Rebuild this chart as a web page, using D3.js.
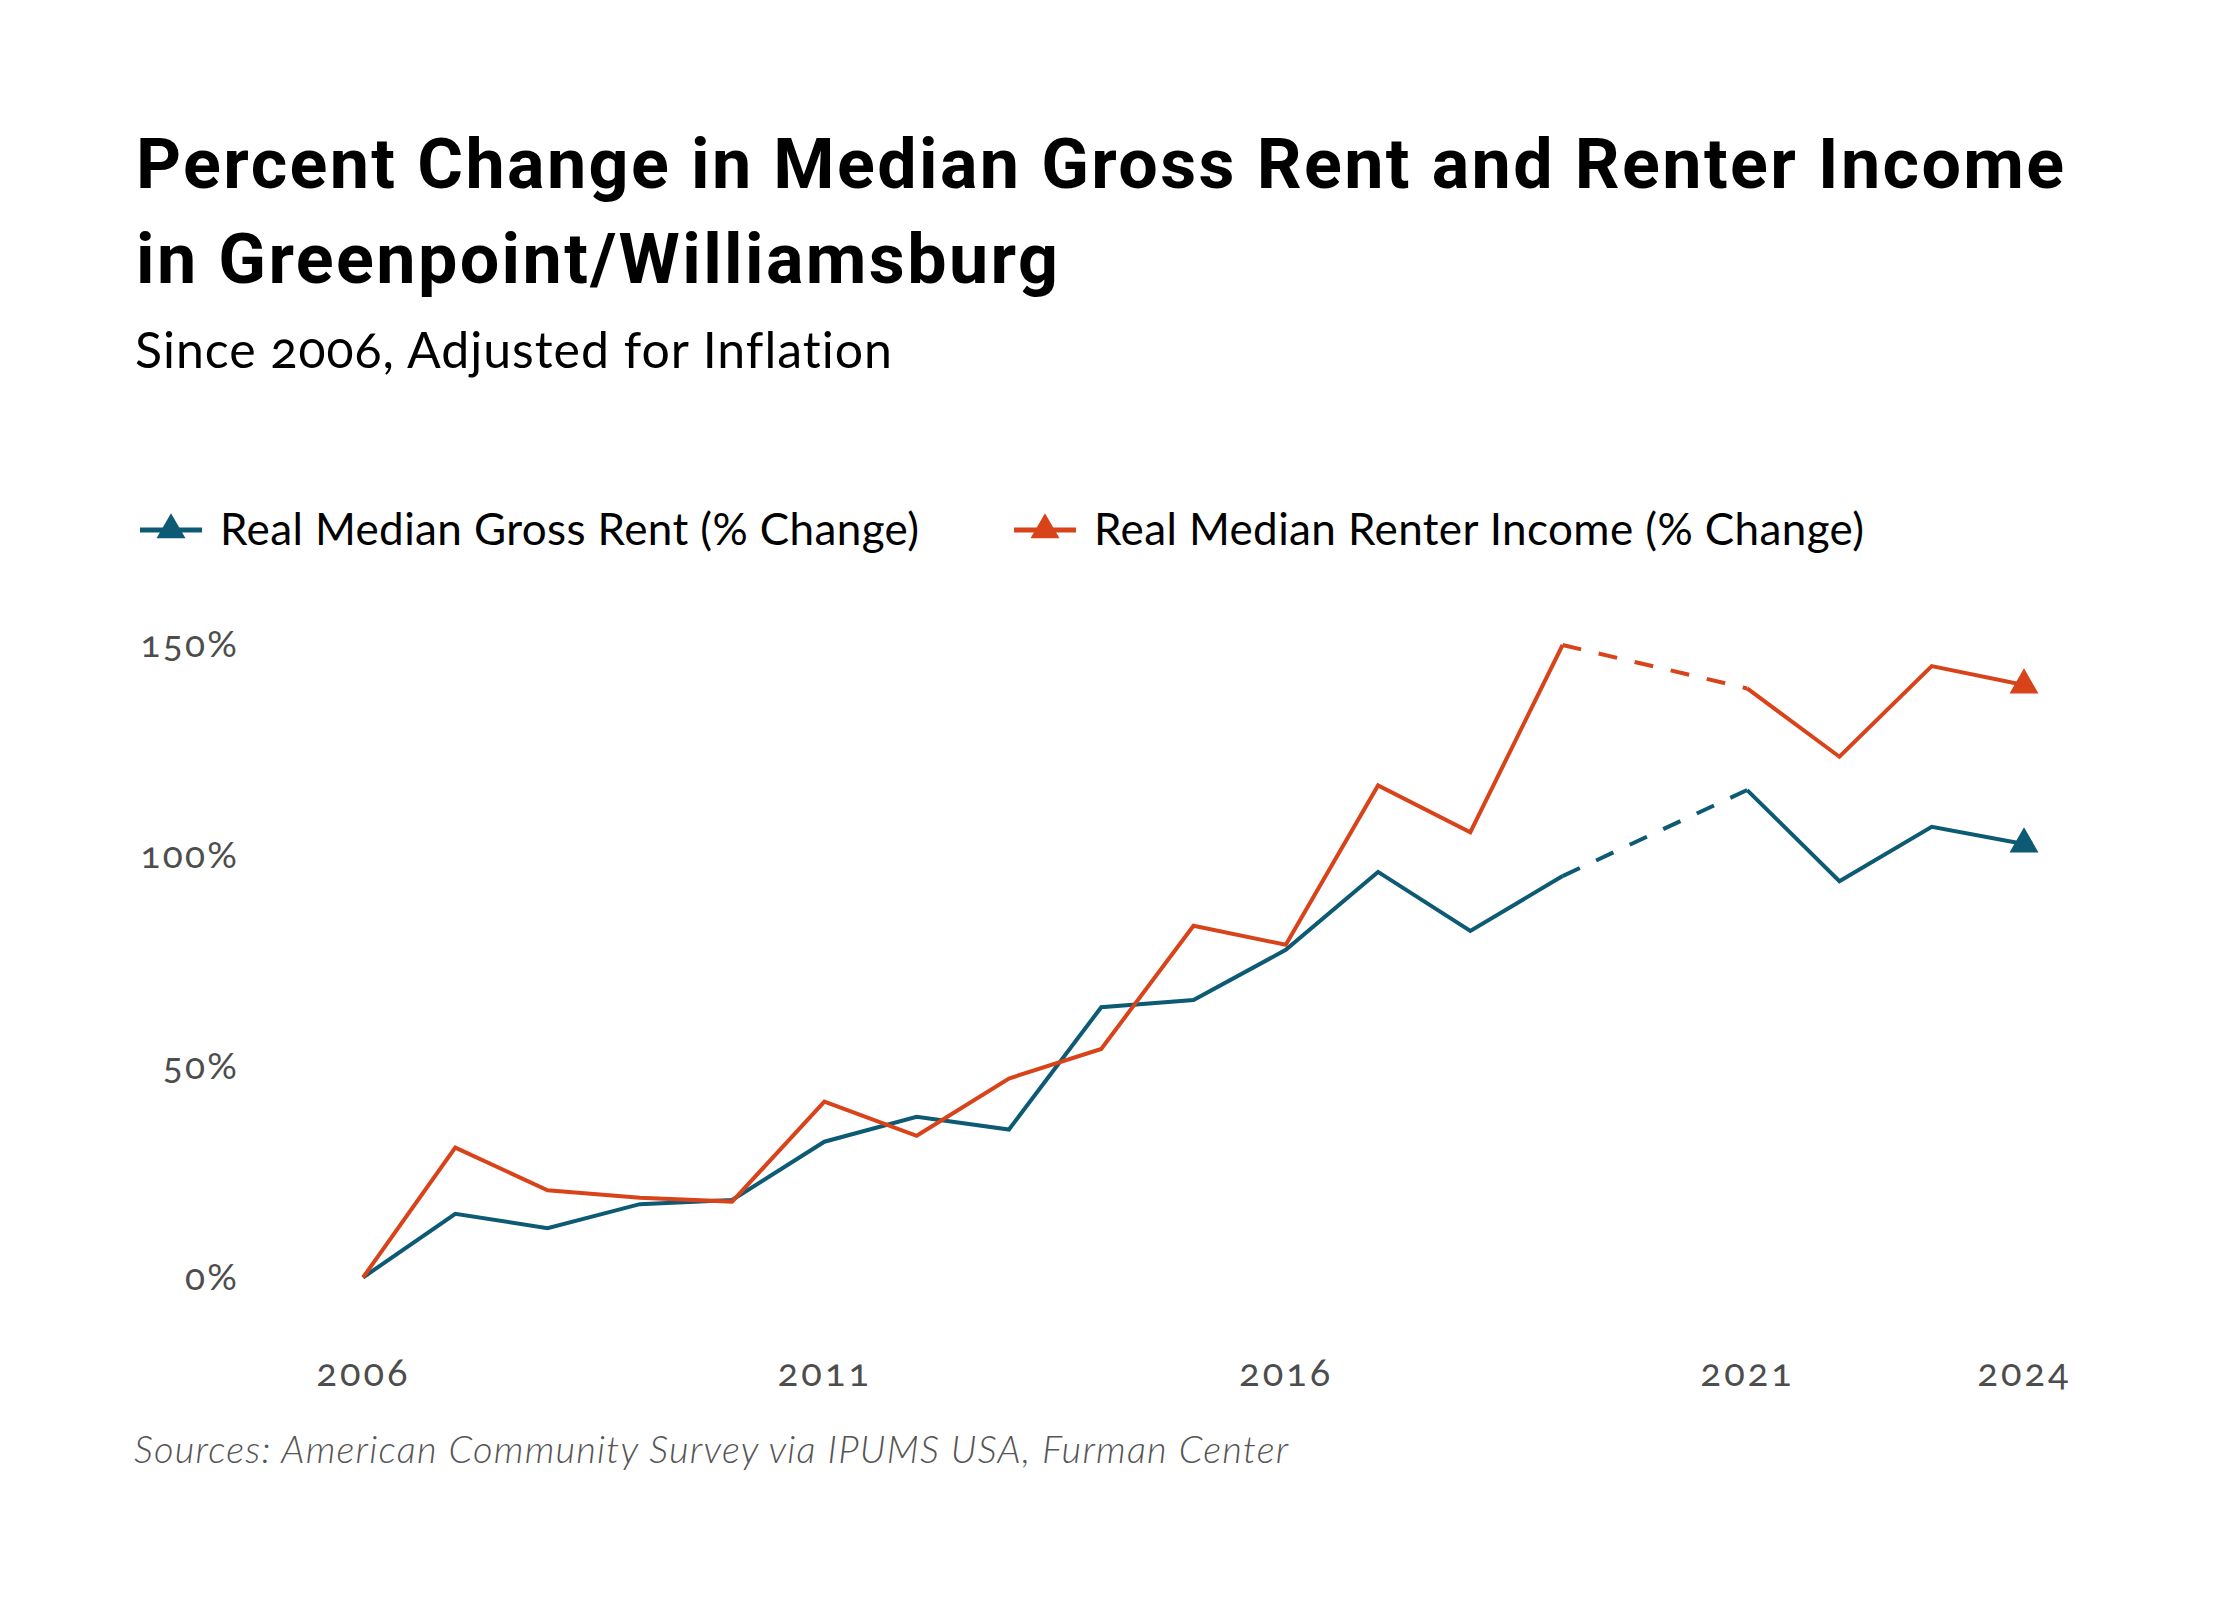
<!DOCTYPE html>
<html>
<head>
<meta charset="utf-8">
<script src="https://cdn.jsdelivr.net/npm/d3@7"></script>
<style>
  html, body { margin: 0; padding: 0; background: #fff; }
  svg { display: block; }
  .tick text { font-variant-numeric: oldstyle-nums; }
</style>
</head>
<body>
<svg id="chart" width="2240" height="1600"></svg>
<script>
// Data (% change since 2006, inflation adjusted)
const years  = [2006, 2007, 2008, 2009, 2010, 2011, 2012, 2013, 2014, 2015,
                2016, 2017, 2018, 2019, 2020, 2021, 2022, 2023, 2024];
const rent   = [0, 15.1, 11.7, 17.4, 18.4, 32.2, 38.1, 35.1, 64.1, 65.8,
                77.7, 96.2, 82.2, 95.2, null, 115.6, 94.0, 106.9, 102.8];
const income = [0, 30.8, 20.7, 18.9, 18.0, 41.7, 33.6, 47.2, 54.2, 83.4,
                78.9, 116.7, 105.6, 150.0, null, 139.7, 123.5, 145.0, 140.5];

const yTicks = [0, 50, 100, 150];
const xTicks = [2006, 2011, 2016, 2021, 2024];

const seriesNames = ["Real Median Gross Rent (% Change)", "Real Median Renter Income (% Change)"];
const colors = ["#0c5a73", "#d8431a"];

const svg = d3.select("#chart");

svg.append("rect")
  .attr("width", 2240)
  .attr("height", 1600)
  .attr("fill", "#fff");

// Title block
const title = svg.append("text")
  .attr("x", 136)
  .attr("font-family", "Roboto, sans-serif")
  .attr("font-weight", 700)
  .attr("font-size", "70px")
  .attr("letter-spacing", "2.4px")
  .attr("fill", "#000");
title.append("tspan").attr("x", 136).attr("y", 188)
  .text("Percent Change in Median Gross Rent and Renter Income");
title.append("tspan").attr("x", 136).attr("y", 283)
  .text("in Greenpoint/Williamsburg");

svg.append("text")
  .attr("x", 135)
  .attr("y", 368)
  .attr("font-family", "Lato, sans-serif")
  .attr("font-size", "50px")
  .attr("letter-spacing", "1px")
  .attr("fill", "#000")
  .style("font-variant-numeric", "oldstyle-nums")
  .text("Since 2006, Adjusted for Inflation");

// Scales
const x = d3.scaleLinear().domain([2006, 2024]).range([363, 2024]);
const y = d3.scaleLinear().domain([0, 150]).range([1277.5, 645]);

// Axes
const yAxis = svg.append("g")
  .attr("transform", "translate(249,0)")
  .call(d3.axisLeft(y).tickValues(yTicks).tickFormat(d => d + "%").tickSize(0).tickPadding(10));
yAxis.select(".domain").remove();
yAxis.selectAll("text")
  .attr("font-family", "Lato, sans-serif")
  .attr("font-size", "37px")
  .attr("letter-spacing", "2.2px")
  .attr("fill", "#4d4d4d");

const xAxis = svg.append("g")
  .attr("transform", "translate(0,1350)")
  .call(d3.axisBottom(x).tickValues(xTicks).tickFormat(d3.format("d")).tickSize(0).tickPadding(9));
xAxis.select(".domain").remove();
xAxis.selectAll("text")
  .attr("font-family", "Lato, sans-serif")
  .attr("font-size", "38px")
  .attr("letter-spacing", "3px")
  .attr("fill", "#4d4d4d");

// Lines
const allSeries = [rent, income];
const line = d3.line()
  .defined(d => d.v !== null)
  .x(d => x(d.year))
  .y(d => y(d.v));

allSeries.forEach((vals, i) => {
  const pts = years.map((yr, j) => ({ year: yr, v: vals[j] }));

  // solid parts
  svg.append("path")
    .datum(pts)
    .attr("fill", "none")
    .attr("stroke", colors[i])
    .attr("stroke-width", 4)
    .attr("stroke-linejoin", "miter")
    .attr("d", line);

  // dashed bridge over missing years
  pts.forEach((p, j) => {
    if (p.v !== null) return;
    if (j === 0 || pts[j - 1].v === null) return;
    let k = j + 1;
    while (k < pts.length && pts[k].v === null) k++;
    if (k >= pts.length) return;
    svg.append("path")
      .datum([pts[j - 1], pts[k]])
      .attr("fill", "none")
      .attr("stroke", colors[i])
      .attr("stroke-width", 4)
      .attr("stroke-dasharray", "19,18")
      .attr("d", line);
  });

  // end marker
  const last = pts[pts.length - 1];
  svg.append("path")
    .attr("d", d3.symbol(d3.symbolTriangle, 364)())
    .attr("transform", `translate(${x(last.year)},${y(last.v)})`)
    .attr("fill", colors[i]);
});

// Legend
const legendX = [140, 1014];
const legend = svg.selectAll(".legend")
  .data(seriesNames)
  .enter()
  .append("g")
  .attr("class", "legend")
  .attr("transform", (d, i) => `translate(${legendX[i]},530)`);

legend.append("line")
  .attr("x1", 0)
  .attr("x2", 62)
  .attr("stroke", (d, i) => colors[i])
  .attr("stroke-width", 5);

legend.append("path")
  .attr("d", d3.symbol(d3.symbolTriangle, 364)())
  .attr("transform", "translate(31,0)")
  .attr("fill", (d, i) => colors[i]);

legend.append("text")
  .attr("x", 80)
  .attr("dy", "0.35em")
  .attr("font-family", "Lato, sans-serif")
  .attr("font-size", "44px")
  .attr("letter-spacing", "0.4px")
  .attr("fill", "#000")
  .text(d => d);

// Source note
svg.append("text")
  .attr("x", 134)
  .attr("y", 1463)
  .attr("font-family", "Lato, sans-serif")
  .attr("font-style", "italic")
  .attr("font-weight", 300)
  .attr("font-size", "38px")
  .attr("letter-spacing", "1.2px")
  .attr("fill", "#555")
  .text("Sources: American Community Survey via IPUMS USA, Furman Center");
</script>
</body>
</html>
